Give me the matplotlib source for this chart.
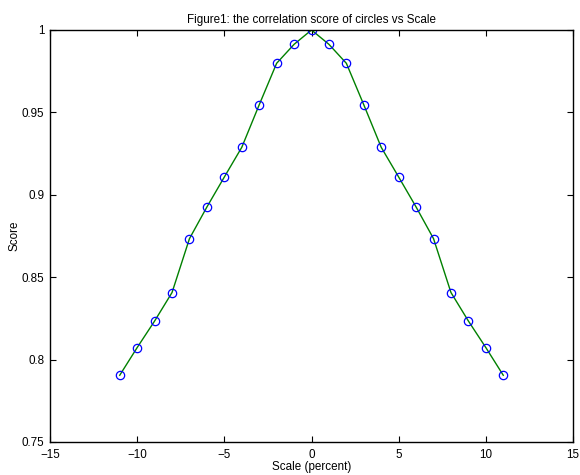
import matplotlib
matplotlib.use('Agg')
from matplotlib import pyplot as plt

scale = [-11, -10, -9, -8, -7, -6, -5, -4, -3, -2, -1, 0,
         1, 2, 3, 4, 5, 6, 7, 8, 9, 10, 11]
score = [0.7905, 0.8073, 0.8234, 0.8407, 0.8734, 0.8926, 0.9108, 0.9288,
         0.9546, 0.9798, 0.9913, 1.0,
         0.9913, 0.9798, 0.9546, 0.9288, 0.9108, 0.8926, 0.8734, 0.8407,
         0.8234, 0.8073, 0.7905]

x_ticks = [-15, -10, -5, 0, 5, 10, 15]
y_ticks = [0.75, 0.8, 0.85, 0.9, 0.95, 1.0]
y_labels = ['0.75', '0.8', '0.85', '0.9', '0.95', '1']

plt.rcParams['font.family'] = ['Liberation Sans', 'DejaVu Sans']
plt.rcParams['font.size'] = 8.4

fig = plt.figure(figsize=(5.8, 4.75), dpi=100)
ax = fig.add_axes([50 / 580, 1 - 442 / 475, 523 / 580, 412 / 475])

ax.plot(scale, score, color='#008000', lw=1.0)
ax.plot(scale, score, 'o', mfc='none', mec='#0000ff', ms=6, mew=0.9)

ax.set_xlim(-15, 15)
ax.set_ylim(0.75, 1.0)
ax.set_xticks(x_ticks)
ax.set_yticks(y_ticks)
ax.set_yticklabels(y_labels)
ax.tick_params(axis='x', direction='in', top=True, length=4, width=0.8, pad=5)
ax.tick_params(axis='y', direction='in', right=True, length=4, width=0.8, pad=4)
for s in ax.spines.values():
    s.set_linewidth(1.0)

ax.set_title('Figure1: the correlation score of circles vs Scale', fontsize=8.4, pad=5)
ax.set_xlabel('Scale (percent)', labelpad=0)
ax.set_ylabel('Score', labelpad=1)

fig.savefig('out.png', dpi=100)
